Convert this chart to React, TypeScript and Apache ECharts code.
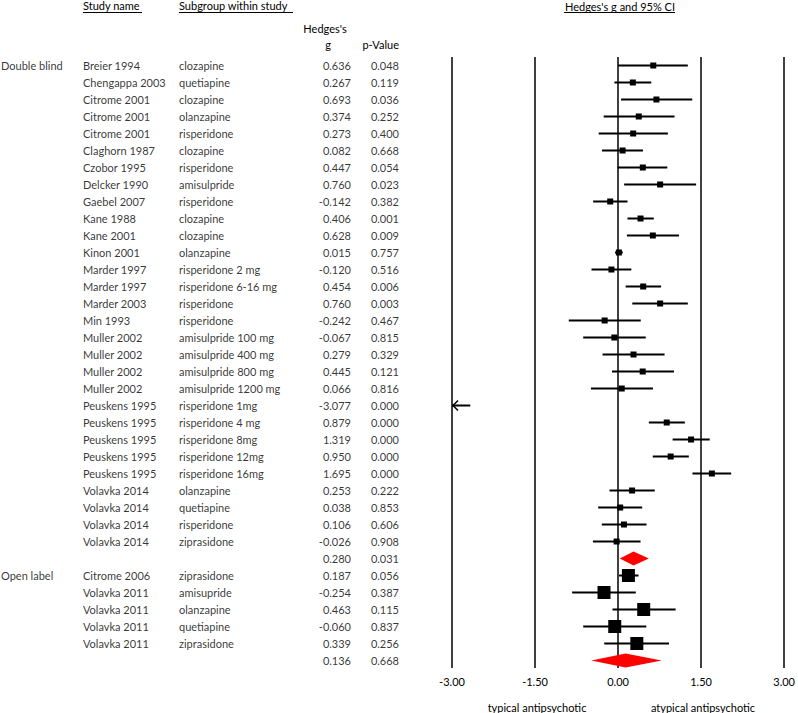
import React, { useEffect, useRef } from "react";
import * as echarts from "echarts";

// ---------- DATA ----------
const dbStudies = [
  "Breier 1994", "Chengappa 2003", "Citrome 2001", "Citrome 2001", "Citrome 2001",
  "Claghorn 1987", "Czobor 1995", "Delcker 1990", "Gaebel 2007", "Kane 1988",
  "Kane 2001", "Kinon 2001", "Marder 1997", "Marder 1997", "Marder 2003",
  "Min 1993", "Muller 2002", "Muller 2002", "Muller 2002", "Muller 2002",
  "Peuskens 1995", "Peuskens 1995", "Peuskens 1995", "Peuskens 1995", "Peuskens 1995",
  "Volavka 2014", "Volavka 2014", "Volavka 2014", "Volavka 2014",
];
const dbSubgroups = [
  "clozapine", "quetiapine", "clozapine", "olanzapine", "risperidone",
  "clozapine", "risperidone", "amisulpride", "risperidone", "clozapine",
  "clozapine", "olanzapine", "risperidone 2 mg", "risperidone 6-16 mg", "risperidone",
  "risperidone", "amisulpride 100 mg", "amisulpride 400 mg", "amisulpride 800 mg", "amisulpride 1200 mg",
  "risperidone 1mg", "risperidone 4 mg", "risperidone 8mg", "risperidone 12mg", "risperidone 16mg",
  "olanzapine", "quetiapine", "risperidone", "ziprasidone",
];
const dbG = [
  0.636, 0.267, 0.693, 0.374, 0.273, 0.082, 0.447, 0.760, -0.142, 0.406,
  0.628, 0.015, -0.120, 0.454, 0.760, -0.242, -0.067, 0.279, 0.445, 0.066,
  -3.077, 0.879, 1.319, 0.950, 1.695, 0.253, 0.038, 0.106, -0.026,
];
const dbP = [
  0.048, 0.119, 0.036, 0.252, 0.400, 0.668, 0.054, 0.023, 0.382, 0.001,
  0.009, 0.757, 0.516, 0.006, 0.003, 0.467, 0.815, 0.329, 0.121, 0.816,
  0.000, 0.000, 0.000, 0.000, 0.000, 0.222, 0.853, 0.606, 0.908,
];
const dbLow = [
  0.0, -0.066, 0.054, -0.26, -0.35, -0.29, -0.008, 0.11, -0.45, 0.17,
  0.16, -0.055, -0.48, 0.137, 0.257, -0.89, -0.63, -0.28, -0.11, -0.49,
  -3.48, 0.556, 0.986, 0.627, 1.344, -0.155, -0.36, -0.293, -0.454,
];
const dbHigh = [
  1.26, 0.60, 1.34, 1.02, 0.90, 0.45, 0.89, 1.41, 0.17, 0.645,
  1.10, 0.085, 0.24, 0.777, 1.26, 0.41, 0.50, 0.84, 1.01, 0.63,
  -2.67, 1.207, 1.655, 1.278, 2.043, 0.663, 0.436, 0.514, 0.406,
];

const olStudies = ["Citrome 2006", "Volavka 2011", "Volavka 2011", "Volavka 2011", "Volavka 2011"];
const olSubgroups = ["ziprasidone", "amisupride", "olanzapine", "quetiapine", "ziprasidone"];
const olG = [0.187, -0.254, 0.463, -0.060, 0.339];
const olP = [0.056, 0.387, 0.115, 0.837, 0.256];
const olLow = [0.018, -0.83, -0.10, -0.63, -0.25];
const olHigh = [0.37, 0.32, 1.04, 0.51, 0.92];

const groupNames = ["Double blind", "Open label"];
const summaryG = [0.280, 0.136];
const summaryP = [0.031, 0.668];
const summaryLow = [0.03, -0.484];
const summaryHigh = [0.556, 0.789];

const xTicks = [-3, -1.5, 0, 1.5, 3];
const favoursLabels = ["typical antipsychotic", "atypical antipsychotic"];

// ---------- ROW TABLE ----------
type Row = { study: string; sub: string; g: number; p: number; lo: number; hi: number; kind: number };
const rows: Row[] = [];
dbStudies.forEach((s, i) =>
  rows.push({ study: s, sub: dbSubgroups[i], g: dbG[i], p: dbP[i], lo: dbLow[i], hi: dbHigh[i], kind: 0 })
);
rows.push({ study: "", sub: "", g: summaryG[0], p: summaryP[0], lo: summaryLow[0], hi: summaryHigh[0], kind: 2 });
const olStart = rows.length;
olStudies.forEach((s, i) =>
  rows.push({ study: s, sub: olSubgroups[i], g: olG[i], p: olP[i], lo: olLow[i], hi: olHigh[i], kind: 1 })
);
rows.push({ study: "", sub: "", g: summaryG[1], p: summaryP[1], lo: summaryLow[1], hi: summaryHigh[1], kind: 2 });

const FONT = "Lato";
const TXT = "#000";

export default function App() {
  const ref = useRef<HTMLDivElement>(null);
  useEffect(() => {
    if (!ref.current) return;
    const chart = echarts.init(ref.current, null, { renderer: "svg" });
    const XMIN = -3, XMAX = 3;

    const forestData = rows.map((r, i) => [i, r.lo, r.g, r.hi, r.kind]);

    const textSeries = (col: number, align: "left" | "right", getter: (r: Row, i: number) => string, extra: any[] = []) => ({
      type: "scatter",
      xAxisIndex: 1,
      yAxisIndex: 1,
      symbolSize: 0,
      silent: true,
      clip: false,
      data: rows
        .map((r, i) => [col, i, getter(r, i)])
        .filter((d) => d[2] !== "")
        .concat(extra),
      label: {
        show: true,
        position: align === "left" ? "right" : "left",
        distance: 0,
        formatter: (p: any) => p.data[2],
        fontFamily: FONT,
        fontSize: 11,
        color: TXT,
      },
    });

    const option: any = {
      animation: false,
      backgroundColor: "#fff",
      grid: [
        { left: 452, width: 335, top: 57, height: 611 },
        { left: 0, width: 452, top: 57, height: 611 },
      ],
      xAxis: [
        {
          type: "value",
          gridIndex: 0,
          min: XMIN,
          max: XMAX,
          interval: 1.5,
          axisLine: { show: false },
          axisTick: { show: false },
          splitLine: { show: true, lineStyle: { color: "#000", width: 1.5 } },
          axisLabel: {
            margin: 8,
            fontFamily: FONT,
            fontSize: 11,
            color: TXT,
            formatter: (v: number) => (xTicks.includes(v) ? v.toFixed(2) : ""),
          },
        },
        { type: "value", gridIndex: 1, min: 0, max: 452, show: false },
      ],
      yAxis: [
        { type: "value", gridIndex: 0, inverse: true, min: -0.5, max: 35.44, show: false },
        { type: "value", gridIndex: 1, inverse: true, min: -0.5, max: 35.44, show: false },
      ],
      series: [
        {
          type: "custom",
          xAxisIndex: 0,
          yAxisIndex: 0,
          clip: false,
          silent: true,
          encode: { x: [1, 2, 3], y: 0 },
          data: forestData,
          renderItem: (params: any, api: any) => {
            const row = api.value(0);
            const lo = api.value(1);
            const g = api.value(2);
            const hi = api.value(3);
            const kind = api.value(4);
            const pLo = api.coord([Math.max(lo, XMIN), row]);
            const pG = api.coord([g, row]);
            const pHi = api.coord([Math.min(hi, XMAX), row]);
            const y = pG[1];
            if (kind === 2) {
              return {
                type: "polygon",
                shape: { points: [[pLo[0], y], [pG[0], y - 7], [pHi[0], y], [pG[0], y + 7]] },
                style: { fill: "#ff0000", stroke: null },
              };
            }
            const children: any[] = [
              {
                type: "line",
                shape: { x1: pLo[0], y1: y, x2: pHi[0], y2: y },
                style: { stroke: "#000", lineWidth: 2 },
              },
            ];
            if (lo < XMIN) {
              children.push({
                type: "polyline",
                shape: { points: [[pLo[0] + 6, y - 5], [pLo[0] + 1, y], [pLo[0] + 6, y + 5]] },
                style: { stroke: "#000", lineWidth: 1.5, fill: null },
              });
            }
            if (g >= XMIN && g <= XMAX) {
              const s = kind === 1 ? 13 : 6;
              children.push({
                type: "rect",
                shape: { x: pG[0] - s / 2, y: y - s / 2, width: s, height: s },
                style: { fill: "#000" },
              });
            }
            return { type: "group", children };
          },
        },
        textSeries(1, "left", () => "", [
          [1, 0, groupNames[0]],
          [1, olStart, groupNames[1]],
        ]),
        textSeries(83, "left", (r) => r.study),
        textSeries(179, "left", (r) => r.sub),
        textSeries(351, "right", (r) => r.g.toFixed(3)),
        textSeries(399, "right", (r) => r.p.toFixed(3)),
      ],
      graphic: [
        { type: "text", left: 83, top: 0, style: { text: "Study name", font: `11px ${FONT}`, fill: TXT } },
        { type: "line", shape: { x1: 83, y1: 12.5, x2: 142, y2: 12.5 }, style: { stroke: TXT, lineWidth: 1 } },
        { type: "text", left: 179, top: 0, style: { text: "Subgroup within study", font: `11px ${FONT}`, fill: TXT } },
        { type: "line", shape: { x1: 179, y1: 12.5, x2: 293, y2: 12.5 }, style: { stroke: TXT, lineWidth: 1 } },
        { type: "text", x: 325, y: 28, style: { text: "Hedges's", font: `11px ${FONT}`, fill: TXT, align: "center", verticalAlign: "middle" } },
        { type: "text", x: 328, y: 44, style: { text: "g", font: `11px ${FONT}`, fill: TXT, align: "center", verticalAlign: "middle" } },
        { type: "text", x: 399, y: 44, style: { text: "p-Value", font: `11px ${FONT}`, fill: TXT, align: "right", verticalAlign: "middle" } },
        { type: "text", x: 620, y: 6, style: { text: "Hedges's g and 95% CI", font: `11px ${FONT}`, fill: TXT, align: "center", verticalAlign: "middle" } },
        { type: "line", shape: { x1: 564, y1: 12.5, x2: 675, y2: 12.5 }, style: { stroke: TXT, lineWidth: 1 } },
        { type: "text", x: 537, y: 707, style: { text: favoursLabels[0], font: `11px ${FONT}`, fill: TXT, align: "center", verticalAlign: "middle" } },
        { type: "text", x: 703, y: 707, style: { text: favoursLabels[1], font: `11px ${FONT}`, fill: TXT, align: "center", verticalAlign: "middle" } },
      ],
    };
    chart.setOption(option);
    return () => chart.dispose();
  }, []);
  return (
    <div
      ref={ref}
      style={{ position: "absolute", left: 0, top: 0, width: 798, height: 713, background: "#fff" }}
    />
  );
}
